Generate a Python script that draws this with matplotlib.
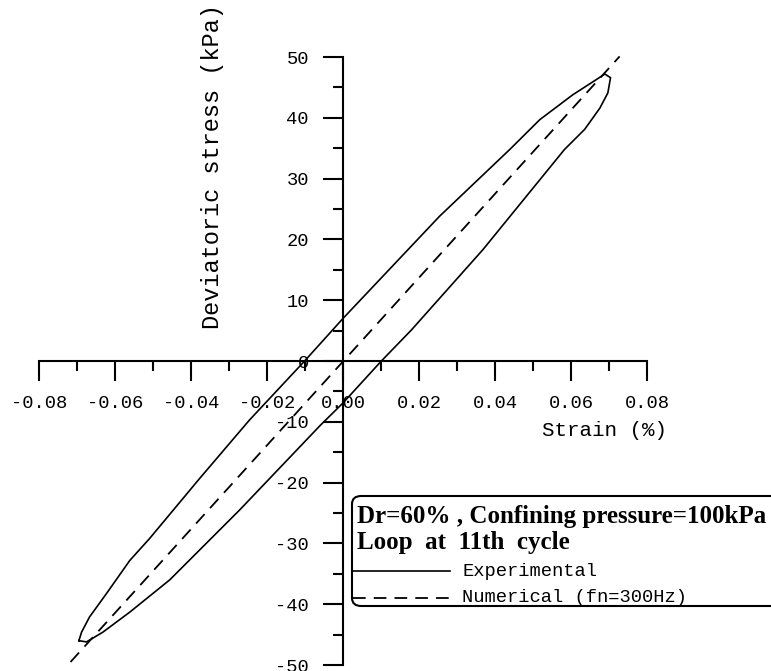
import numpy as np
import matplotlib.pyplot as plt
from matplotlib.ticker import MultipleLocator, FormatStrFormatter
from matplotlib.patches import FancyBboxPatch
from matplotlib.lines import Line2D

plt.rcParams['axes.unicode_minus'] = False

# experimental loop (strain %, stress kPa)
loop_strain = [-0.0695, -0.0688, -0.0667, -0.0623, -0.0561, -0.0509, -0.0377, -0.0246,
               -0.0101, 0.0, 0.0254, 0.0439, 0.0518, 0.0605, 0.0667, 0.0689, 0.0704,
               0.0697, 0.0676, 0.0636, 0.0583, 0.0368, 0.0180, 0.0101, 0.0, -0.0060,
               -0.0272, -0.0456, -0.0561, -0.0632, -0.0675, -0.0695]
loop_stress = [-46.0, -44.6, -42.1, -38.3, -32.8, -29.2, -19.3, -9.7,
               0.0, 7.0, 23.8, 34.8, 39.7, 43.8, 46.3, 47.2, 46.6,
               44.1, 41.6, 38.1, 34.8, 18.3, 5.1, 0.0, -6.9, -10.6,
               -24.5, -36.0, -41.3, -44.6, -46.2, -46.0]

# numerical result (straight line)
num_strain = [-0.0717, 0.0728]
num_stress = [-49.5, 50.1]

title1 = 'Dr=60% , Confining pressure=100kPa'
title2 = 'Loop  at  11th  cycle'
labels = ['Experimental', 'Numerical (fn=300Hz)']

W, H = 771, 671
dash = (0, (7, 4.5))
fig = plt.figure(figsize=(W/100, H/100), dpi=100)
ax = fig.add_axes([39/W, 6/H, 608/W, 608/H])

ax.plot(loop_strain, loop_stress, color='black', lw=1.2, clip_on=False)
ax.plot(num_strain, num_stress, color='black', lw=1.3, linestyle=dash, clip_on=False)

ax.set_xlim(-0.08, 0.08)
ax.set_ylim(-50, 50)
for s in ['top', 'right']:
    ax.spines[s].set_visible(False)
ax.spines['left'].set_position(('data', 0))
ax.spines['bottom'].set_position(('data', 0))
ax.spines['left'].set_linewidth(1.5)
ax.spines['bottom'].set_linewidth(1.5)
ax.patch.set_visible(False)

ax.xaxis.set_major_locator(MultipleLocator(0.02))
ax.xaxis.set_minor_locator(MultipleLocator(0.01))
ax.yaxis.set_major_locator(MultipleLocator(10))
ax.yaxis.set_minor_locator(MultipleLocator(5))
ax.xaxis.set_major_formatter(FormatStrFormatter('%.2f'))
ax.yaxis.set_major_formatter(FormatStrFormatter('%d'))
ax.tick_params(which='major', direction='out', length=14.5, width=1.5, pad=10)
ax.tick_params(which='minor', direction='out', length=7.5, width=1.5)
for lab in ax.get_xticklabels() + ax.get_yticklabels():
    lab.set_family('Liberation Mono')
    lab.set_fontsize(13.5)

fig.text(605/W, 1 - 430/H, 'Strain (%)', family='Liberation Mono', fontsize=15,
         ha='center', va='center')
fig.text(212/W, 1 - 167/H, 'Deviatoric stress (kPa)', family='Liberation Mono', fontsize=17,
         ha='center', va='center', rotation=90)

# legend box
box = FancyBboxPatch((352/W, 1 - 606/H), 460/W, 110/H,
                     boxstyle='round,pad=0,rounding_size=0.012',
                     transform=fig.transFigure, facecolor='white', edgecolor='black',
                     lw=1.5, clip_on=False)
fig.add_artist(box)
fig.text(357/W, 1 - 516/H, title1, family='Liberation Serif', weight='bold', fontsize=18,
         va='center', ha='left')
fig.text(357/W, 1 - 543/H, title2, family='Liberation Serif', weight='bold', fontsize=18,
         va='center', ha='left')
fig.add_artist(Line2D([353/W, 450/W], [1 - 571/H, 1 - 571/H], color='black', lw=1.2,
                      transform=fig.transFigure))
fig.add_artist(Line2D([353/W, 450/W], [1 - 598/H, 1 - 598/H], color='black', lw=1.3,
                      linestyle=dash, transform=fig.transFigure))
fig.text(462/W, 1 - 571/H, labels[0], family='Liberation Mono', fontsize=13.5, va='center')
fig.text(462/W, 1 - 598/H, labels[1], family='Liberation Mono', fontsize=13.5, va='center')

fig.savefig('out.png', dpi=100)
